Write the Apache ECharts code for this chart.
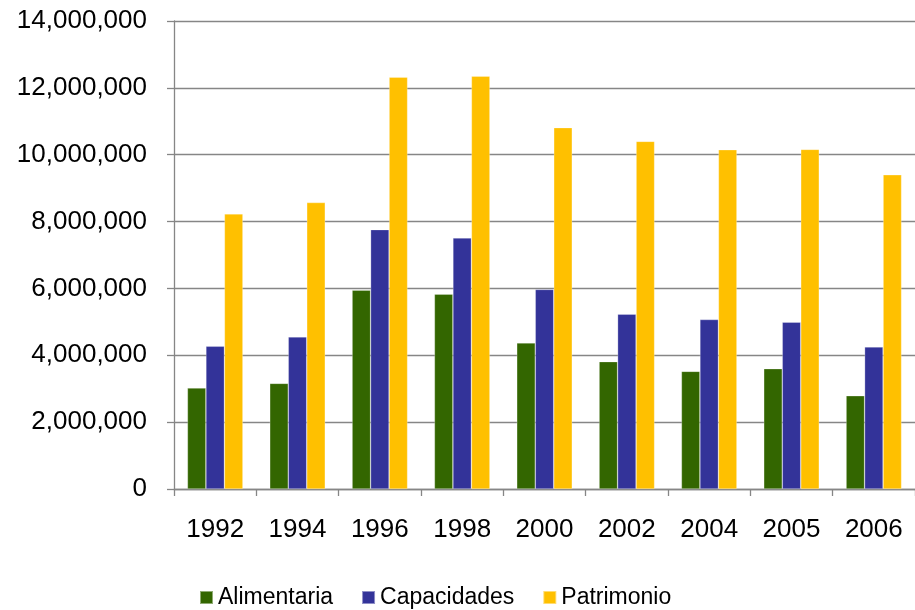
<!DOCTYPE html>
<html>
	<head>
		<meta charset="UTF-8">
		<title>Alimentaria / Capacidades / Patrimonio</title>
		<script type="text/javascript" src="https://cdn.jsdelivr.net/npm/echarts@6/dist/echarts.min.js"></script>
		<style>
			html, body { margin: 0; padding: 0; background: #fff; }
			#main { width: 915px; height: 610px; }
		</style>
	</head>
	<body>
		<div id="main"></div>
		<script type="text/javascript">
			// datos
			var years = ['1992', '1994', '1996', '1998', '2000', '2002', '2004', '2005', '2006'];
			var alimentaria = [3020000, 3160000, 5950000, 5830000, 4370000, 3810000, 3520000, 3600000, 2790000];
			var capacidades = [4270000, 4550000, 7760000, 7510000, 5970000, 5230000, 5070000, 4990000, 4250000];
			var patrimonio = [8230000, 8570000, 12320000, 12350000, 10810000, 10400000, 10150000, 10160000, 9400000];
			var yTicks = [0, 2000000, 4000000, 6000000, 8000000, 10000000, 12000000, 14000000];

			var axisGray = '#868686';
			var font = 'Liberation Sans, Arial, sans-serif';

			var myChart = echarts.init(document.getElementById('main'));

			function barSerie(name, data, color) {
				return {
					name: name,
					type: 'bar',
					data: data,
					barWidth: 18.5,
					barGap: '0%',
					itemStyle: {
						color: color,
						borderColor: 'rgba(255,255,255,0.45)',
						borderWidth: 0.6
					}
				};
			}

			var option = {
				animation: false,
				backgroundColor: '#fff',
				grid: {
					left: 174,
					top: 21,
					width: 743,
					height: 468
				},
				legend: {
					left: 199,
					top: 586,
					padding: 0,
					itemWidth: 13,
					itemHeight: 13,
					itemGap: 28,
					icon: 'rect',
					textStyle: { fontFamily: font, fontSize: 23, color: '#000' },
					data: ['Alimentaria', 'Capacidades', 'Patrimonio']
				},
				xAxis: {
					type: 'category',
					data: years,
					axisLine: { lineStyle: { color: axisGray, width: 1.3 } },
					axisTick: { show: true, length: 7, lineStyle: { color: axisGray, width: 1.3 } },
					axisLabel: { fontFamily: font, fontSize: 26, color: '#000', margin: 28 }
				},
				yAxis: {
					type: 'value',
					min: yTicks[0],
					max: yTicks[yTicks.length - 1],
					interval: yTicks[1] - yTicks[0],
					axisLine: { show: true, lineStyle: { color: axisGray, width: 1.3 } },
					axisTick: { show: true, length: 7, lineStyle: { color: axisGray, width: 1.3 } },
					splitLine: { lineStyle: { color: axisGray, width: 1.3 } },
					axisLabel: {
						fontFamily: font,
						fontSize: 26,
						color: '#000',
						margin: 27,
						formatter: function (v) { return v.toLocaleString('en-US'); }
					}
				},
				series: [
					barSerie('Alimentaria', alimentaria, '#336600'),
					barSerie('Capacidades', capacidades, '#333399'),
					barSerie('Patrimonio', patrimonio, '#FFC000')
				]
			};

			myChart.setOption(option);
		</script>
	</body>
</html>
